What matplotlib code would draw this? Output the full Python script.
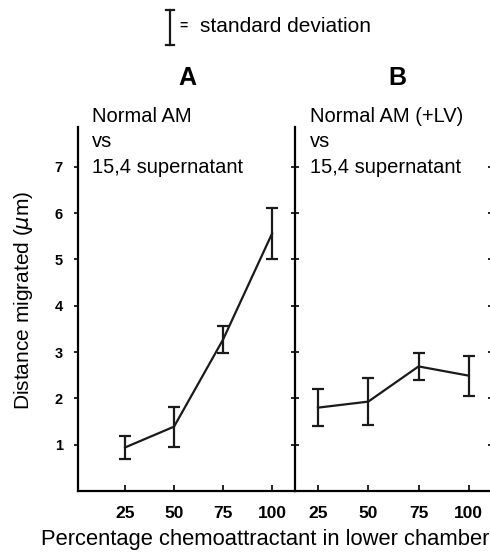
import numpy as np
import matplotlib.pyplot as plt
from matplotlib.lines import Line2D

plt.rcParams['font.family'] = ['Liberation Sans', 'DejaVu Sans']

# data
conc = [25, 50, 75, 100]
mean_a = [0.94, 1.39, 3.27, 5.56]
sd_a = [0.24, 0.43, 0.30, 0.55]
mean_b = [1.80, 1.93, 2.69, 2.49]
sd_b = [0.40, 0.50, 0.30, 0.43]
yticks = [1, 2, 3, 4, 5, 6, 7]

W, H = 490, 553
fig = plt.figure(figsize=(W / 100, H / 100), dpi=100)

def box(x0, x1, ytop, ybot):
    return [x0 / W, 1 - ybot / H, (x1 - x0) / W, (ybot - ytop) / H]

ax_a = fig.add_axes(box(78, 295, 127, 491))
ax_b = fig.add_axes(box(295, 490, 127, 491), sharey=ax_a)

lw = 1.6
for ax, m, s in [(ax_a, mean_a, sd_a), (ax_b, mean_b, sd_b)]:
    ax.errorbar(conc, m, yerr=s, color='#1a1a1a', lw=lw, elinewidth=lw,
                capsize=4.5, capthick=lw)
    for sp in ['top', 'right']:
        ax.spines[sp].set_visible(False)
    ax.spines['left'].set_linewidth(lw)
    ax.spines['bottom'].set_linewidth(lw)
    ax.set_xticks(conc)
    ax.set_xticklabels([str(c) for c in conc], fontsize=12.5, fontweight='bold')
    ax.tick_params(axis='x', direction='in', length=4, width=1.2, pad=11)

ax_a.set_xlim(1.0, 111.7)
ax_b.set_xlim(13.6, 110.5)
ax_a.set_ylim(0, 7.86)
ax_a.set_yticks(yticks)
ax_a.set_yticklabels([str(t) for t in yticks], fontsize=10.5, fontweight='bold')
ax_a.tick_params(axis='y', direction='out', length=3, width=1.2, pad=8)
ax_b.tick_params(axis='y', direction='inout', length=6, width=1.2,
                 labelleft=False, right=True)
for t in ax_b.yaxis.get_major_ticks():
    t.tick2line.set_markersize(3)

ax_a.set_ylabel('Distance migrated ($\\mu$m)', fontsize=15)
ax_a.yaxis.set_label_coords(-0.2, 0.525)
fig.text(265 / W, 1 - 540 / H, 'Percentage chemoattractant in lower chamber',
         fontsize=15.8, ha='center', va='center')

# panel titles and condition labels
fig.text(187 / W, 1 - 85 / H, 'A', fontsize=18, fontweight='bold', ha='center', va='baseline')
fig.text(397 / W, 1 - 85 / H, 'B', fontsize=18, fontweight='bold', ha='center', va='baseline')
for x, lab in [(92, 'Normal AM'), (310, 'Normal AM (+LV)')]:
    fig.text(x / W, 1 - 122 / H, lab, fontsize=14.5, va='baseline')
    fig.text(x / W, 1 - 147 / H, 'vs', fontsize=14.5, va='baseline')
    fig.text(x / W, 1 - 173 / H, '15,4 supernatant', fontsize=14.5, va='baseline')

# standard deviation key
xk, y0, y1 = 170, 10, 45
for seg in [((xk, xk), (y0, y1)), ((xk - 4, xk + 4), (y0, y0)), ((xk - 4, xk + 4), (y1, y1))]:
    fig.add_artist(Line2D([v / W for v in seg[0]], [1 - v / H for v in seg[1]],
                          color='#1a1a1a', lw=lw))
fig.text(179 / W, 1 - 26 / H, '=', fontsize=10, fontweight='bold', va='center')
fig.text(200 / W, 1 - 32 / H, 'standard deviation', fontsize=15, va='baseline')

fig.savefig('out.png', dpi=100)
